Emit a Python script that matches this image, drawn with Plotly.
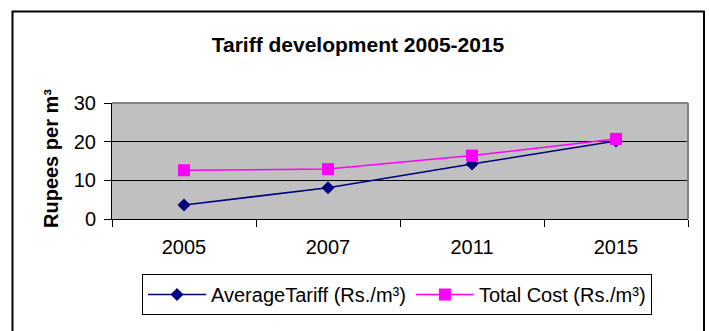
import plotly.graph_objects as go

# Tariff data, rupees per cubic metre
years = ["2005", "2007", "2011", "2015"]
average_tariff = [3.6, 8.1, 14.2, 20.2]
total_cost = [12.6, 12.9, 16.4, 20.7]

series_names = ["AverageTariff (Rs./m³)", "Total Cost (Rs./m³)"]
y_ticks = [0, 10, 20, 30]

FONT = "Arial, Liberation Sans, sans-serif"
W, H = 709, 331
L, R, T, B = 112, 21, 103, 112
PW, PH = W - L - R, H - T - B


def px_x(px):
    return (px - L) / PW


def px_y(py):
    return (H - B - py) / PH


fig = go.Figure()
fig.add_trace(go.Scatter(
    x=years, y=average_tariff, name=series_names[0], mode="lines+markers",
    line=dict(color="#000080", width=1.5),
    marker=dict(symbol="diamond", size=10, color="#000080"),
))
fig.add_trace(go.Scatter(
    x=years, y=total_cost, name=series_names[1], mode="lines+markers",
    line=dict(color="#FF00FF", width=1.5),
    marker=dict(symbol="square", size=12, color="#FF00FF"),
))

fig.update_layout(
    width=W, height=H,
    margin=dict(l=L, r=R, t=T, b=B, autoexpand=False),
    paper_bgcolor="white",
    plot_bgcolor="#C0C0C0",
    font=dict(family=FONT, color="black", size=20),
    title=dict(
        text="<b>Tariff development 2005-2015</b>",
        font=dict(family=FONT, size=21, color="black"),
        x=358 / W, xanchor="center", xref="container",
        y=1 - 45 / H, yanchor="middle", yref="container",
    ),
    showlegend=True,
    legend=dict(
        orientation="h",
        x=px_x(397), xanchor="center",
        y=px_y(274), yanchor="top",
        bgcolor="white", bordercolor="black", borderwidth=1,
        font=dict(family=FONT, size=20, color="black"),
        itemwidth=58,
        tracegroupgap=0,
    ),
    xaxis=dict(
        type="category",
        range=[-0.5, 3.5],
        tickson="boundaries",
        ticks="outside", ticklen=7, tickcolor="black", tickwidth=1,
        showline=True, linecolor="black", linewidth=1,
        showgrid=False, zeroline=False,
        tickfont=dict(family=FONT, size=20, color="black"),
        ticklabelstandoff=10,
    ),
    yaxis=dict(
        range=[0, 30], tickvals=y_ticks,
        ticks="outside", ticklen=7, tickcolor="black", tickwidth=1,
        showline=True, linecolor="black", linewidth=1,
        showgrid=True, gridcolor="black", gridwidth=1,
        zeroline=False,
        tickfont=dict(family=FONT, size=20, color="black"),
        ticklabelstandoff=4,
    ),
    shapes=[
        # top and right edges of the plot area in grey
        dict(type="line", xref="paper", yref="paper", x0=0, x1=1, y0=1, y1=1,
             line=dict(color="#808080", width=2)),
        dict(type="line", xref="paper", yref="paper", x0=1, x1=1, y0=0, y1=1,
             line=dict(color="#808080", width=2)),
        # chart frame
        dict(type="rect", xref="paper", yref="paper",
             x0=px_x(12.5), x1=px_x(704), y0=px_y(340), y1=px_y(11.5),
             line=dict(color="black", width=2), layer="below"),
    ],
    annotations=[
        dict(text="<b>Rupees per m³</b>", xref="paper", yref="paper",
             x=px_x(51), y=px_y(159), xanchor="center", yanchor="middle",
             textangle=-90, showarrow=False,
             font=dict(family=FONT, size=20, color="black")),
    ],
)

fig.write_html("out.html")
